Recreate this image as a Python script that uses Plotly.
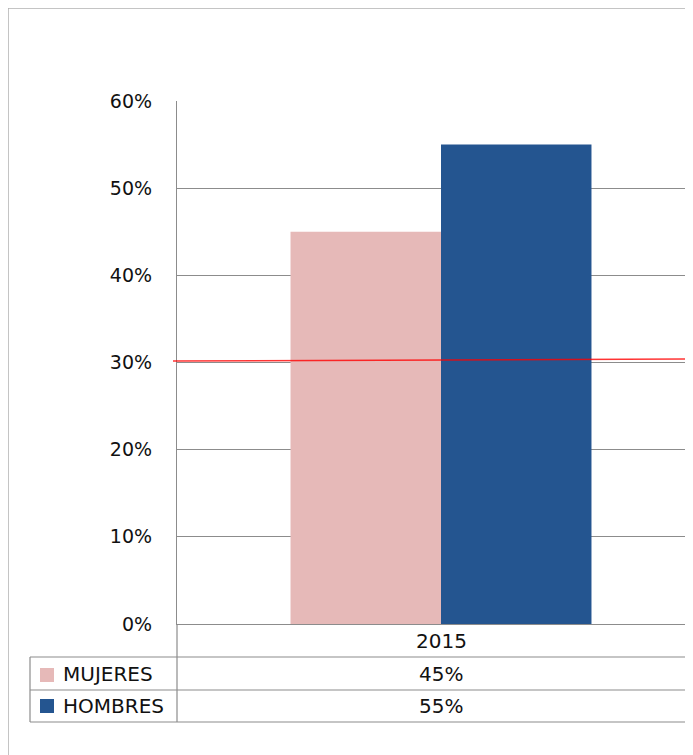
import plotly.graph_objects as go

# Data
categories = ["2015"]
series_names = ["MUJERES", "HOMBRES"]
mujeres = [0.45]
hombres = [0.55]
series_colors = ["#E6B9B8", "#245590"]
ref_line = [0.3017, 0.3040]  # hand-drawn red reference line (left, right)

# the page body adds an 8px margin, so work in page pixels minus that offset
OFF = 8
W, H = 693 - OFF, 755 - OFF
L, T = 177 - OFF, 101 - OFF
B = H - (624 - OFF)
PW, PH = W - L, H - T - B


def px_x(x):
    return (x - OFF - L) / PW


def px_y(y):
    return (H - B - (y - OFF)) / PH


fig = go.Figure()
for name, vals, col in zip(series_names, [mujeres, hombres], series_colors):
    fig.add_trace(go.Bar(x=categories, y=vals, name=name, marker_color=col,
                         marker_line_width=0))

grid = "#8c8c8c"
shapes = []
# outer chart frame
shapes.append(dict(type="line", xref="paper", yref="paper", x0=px_x(8), x1=px_x(710),
                   y0=px_y(8), y1=px_y(8), line=dict(color="#b0b0b0", width=1.5)))
shapes.append(dict(type="line", xref="paper", yref="paper", x0=px_x(8), x1=px_x(8),
                   y0=px_y(8), y1=px_y(770), line=dict(color="#b0b0b0", width=1.5)))
# data table lines
for yy in [657, 690, 722]:
    shapes.append(dict(type="line", xref="paper", yref="paper", x0=px_x(30), x1=px_x(710),
                       y0=px_y(yy), y1=px_y(yy), line=dict(color=grid, width=1.2)))
shapes.append(dict(type="line", xref="paper", yref="paper", x0=px_x(30), x1=px_x(30),
                   y0=px_y(657), y1=px_y(722), line=dict(color=grid, width=1.2)))
shapes.append(dict(type="line", xref="paper", yref="paper", x0=0, x1=0,
                   y0=px_y(624), y1=px_y(722), line=dict(color=grid, width=1.2)))
# legend keys
key_y = [(668, 682), (699, 713)]
for (y0, y1), col in zip(key_y, series_colors):
    shapes.append(dict(type="rect", xref="paper", yref="paper", x0=px_x(40), x1=px_x(54),
                       y0=px_y(y1), y1=px_y(y0), fillcolor=col, line_width=0))
# red reference line
shapes.append(dict(type="line", xref="paper", yref="y", x0=px_x(173), x1=1.0,
                   y0=ref_line[0], y1=ref_line[1],
                   line=dict(color="rgba(255,0,0,0.8)", width=1.6)))

font_txt = dict(family="DejaVu Sans", size=20, color="#111111")
cat_idx = 0  # position of the category on the category axis
annotations = []
annotations.append(dict(x=cat_idx, y=px_y(641), xref="x", yref="paper",
                        text=categories[cat_idx], showarrow=False, font=font_txt,
                        xanchor="center", yanchor="middle"))
for i, (name, vals) in enumerate(zip(series_names, [mujeres, hombres])):
    yc = px_y(674 + 32 * i)
    annotations.append(dict(x=px_x(61), y=yc, xref="paper", yref="paper", text=name,
                            showarrow=False, font=font_txt, xanchor="left", yanchor="middle"))
    annotations.append(dict(x=cat_idx, y=yc, xref="x", yref="paper",
                            text=f"{vals[cat_idx]:.0%}", showarrow=False, font=font_txt,
                            xanchor="center", yanchor="middle"))

unit = 528
fig.update_layout(
    width=W, height=H,
    margin=dict(l=L, r=0, t=T, b=B),
    paper_bgcolor="white", plot_bgcolor="white",
    showlegend=False,
    barmode="group", bargap=0.43, bargroupgap=0,
    shapes=shapes, annotations=annotations,
    xaxis=dict(type="category", range=[-0.5, PW / unit - 0.5], showticklabels=False,
               showgrid=False, showline=True, linecolor=grid, linewidth=1.2,
               zeroline=False, fixedrange=True),
    yaxis=dict(range=[0, 0.6], tickvals=[0, 0.1, 0.2, 0.3, 0.4, 0.5, 0.6],
               tickformat=".0%", showgrid=True, gridcolor=grid, gridwidth=1,
               showline=True, linecolor=grid, linewidth=1.2, zeroline=False,
               ticks="", ticklabelstandoff=20,
               tickfont=dict(family="DejaVu Sans", size=19, color="#111111")),
)

fig.write_html("out.html")
